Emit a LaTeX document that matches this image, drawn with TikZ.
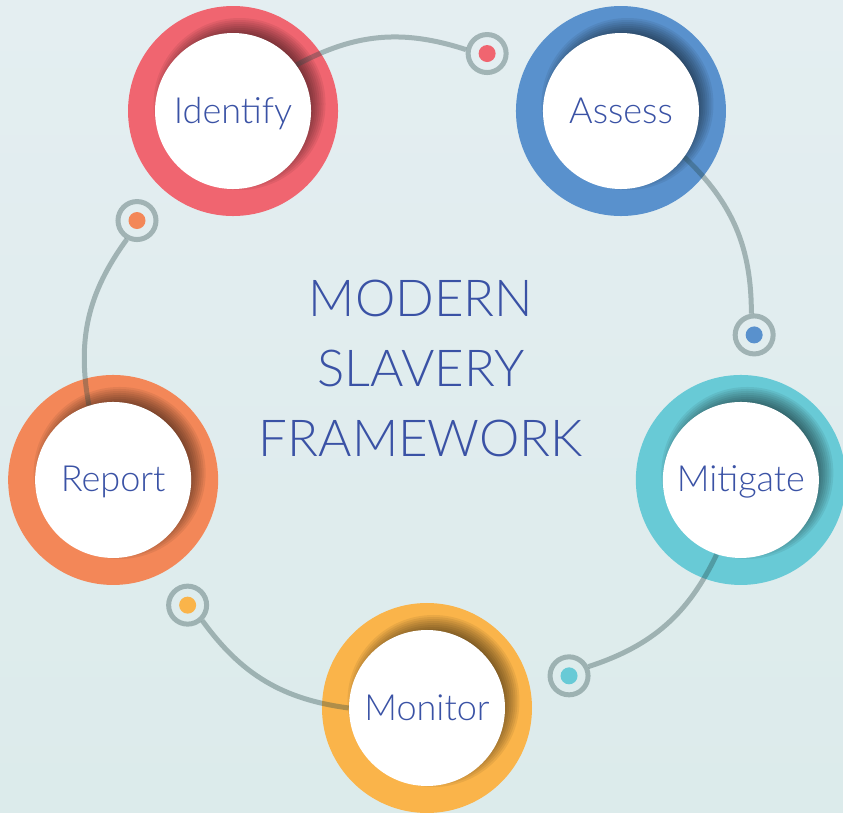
\documentclass[tikz,border=0pt]{standalone}
\usepackage{fontspec}
\setmainfont{Lato Light}
\usepackage{tikz}
\usetikzlibrary{arrows}
\usetikzlibrary{positioning}

\definecolor{ringred}{RGB}{240,101,112}
\definecolor{ringblue}{RGB}{89,145,205}
\definecolor{ringteal}{RGB}{104,202,214}
\definecolor{ringyellow}{RGB}{250,180,74}
\definecolor{ringorange}{RGB}{243,135,88}
\definecolor{linkgrey}{RGB}{40,72,72}
\definecolor{textblue}{RGB}{58,82,165}
\definecolor{bgtop}{RGB}{228,238,241}
\definecolor{bgbottom}{RGB}{220,235,235}

\begin{document}
\begin{tikzpicture}
	[ring/.style={circle,minimum size=4.2cm,inner sep=0pt},
	disc/.style={circle,fill=white,minimum size=3.12cm,inner sep=0pt,text=textblue,
		font=\fontsize{20.5}{24}\selectfont,text height=0.48cm,text depth=0pt},
	dot/.style={circle,draw=linkgrey,draw opacity=.35,line width=0.1cm,minimum size=0.76cm,inner sep=0pt},
	link/.style={draw=linkgrey,draw opacity=.35,line width=0.1cm}]
	\useasboundingbox (-8.54,-8.70) rectangle (8.32,7.56);
	\shade[top color=bgtop,bottom color=bgbottom] (-8.54,-8.70) rectangle (8.32,7.56);
	
	% coloured rings
	\node[ring,fill=ringred] (n1) at (126:6.6) {};
	\node[ring,fill=ringblue] (n2) at (54:6.6) {};
	\node[ring,fill=ringteal] (n3) at (-18:6.6) {};
	\node[ring,fill=ringyellow] (n4) at (-90:6.6) {};
	\node[ring,fill=ringorange] (n5) at (198:6.6) {};
	
	% soft shadow of the white discs
	\foreach \n in {n1,n2,n3,n4,n5}
	{
		\begin{scope}
			\clip (\n) circle (2.1);
			\foreach \k in {0,...,9}
			\fill[black,opacity=.065] ([shift={(0.13,0.14)}]\n.center) circle (1.72-\k*0.04);
		\end{scope}
	}
	
	\node[disc] (w1) at (n1) {Identify};
	\node[disc] (w2) at (n2) {Assess};
	\node[disc] (w3) at (n3) {Mitigate};
	\node[disc] (w4) at (n4) {Monitor};
	\node[disc] (w5) at (n5) {Report};
	
	\node[dot] (d1) at (79.5:6.6) {};
	\node[dot] (d2) at (7.5:6.6) {};
	\node[dot] (d3) at (-64.5:6.6) {};
	\node[dot] (d4) at (-136.5:6.6) {};
	\node[dot] (d5) at (151.5:6.6) {};
	
	\foreach \from/\to/\c in
	{w1/d1/ringred, w2/d2/ringblue, w3/d3/ringteal, w4/d4/ringyellow, w5/d5/ringorange}
	{
		\draw[link] (\from) to[bend left=23.25] (\to);
		\fill[\c] (\to) circle (0.17);
	}
	
	\node[text=textblue,align=center,font=\fontsize{29}{39.8}\selectfont] (title) at (-0.12,0.19)
	{MODERN\\SLAVERY\\FRAMEWORK};
\end{tikzpicture}
\end{document}
